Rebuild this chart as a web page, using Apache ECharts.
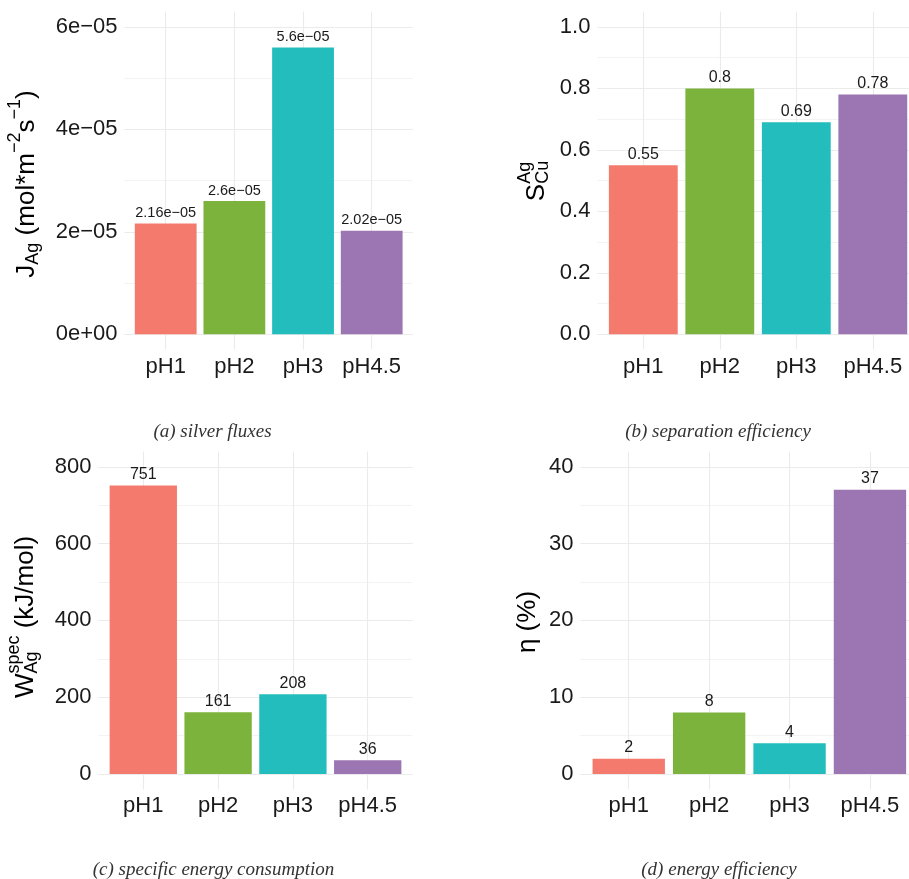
<!DOCTYPE html>
<html>
<head>
<meta charset="utf-8">
<script src="https://cdn.jsdelivr.net/npm/echarts@6.0.0/dist/echarts.min.js"></script>
<style>
html,body{margin:0;padding:0;background:#fff;}
#chart{width:909px;height:879px;}
</style>
</head>
<body>
<div id="chart"></div>
<script>
// ---- data ----
const categories = ['pH1', 'pH2', 'pH3', 'pH4.5'];
const barColors = ['#F47A6E', '#7CB33C', '#23BDBD', '#9B76B2'];

const fluxValues = [2.16e-5, 2.6e-5, 5.6e-5, 2.02e-5];
const selectivityValues = [0.55, 0.8, 0.69, 0.78];
const energyValues = [751, 161, 208, 36];
const efficiencyValues = [2, 8, 4, 37];

const fluxTicks = [0, 2e-5, 4e-5, 6e-5];
const fluxTickLabels = ['0e+00', '2e\u221205', '4e\u221205', '6e\u221205'];
const fluxMinorTicks = [1e-5, 3e-5, 5e-5];
const fluxLimits = [0, 6e-5];

const selTicks = [0, 0.2, 0.4, 0.6, 0.8, 1.0];
const selTickLabels = ['0.0', '0.2', '0.4', '0.6', '0.8', '1.0'];
const selMinorTicks = [0.1, 0.3, 0.5, 0.7, 0.9];
const selLimits = [0, 1];

const energyTicks = [0, 200, 400, 600, 800];
const energyTickLabels = ['0', '200', '400', '600', '800'];
const energyMinorTicks = [100, 300, 500, 700];
const energyLimits = [0, 800];

const effTicks = [0, 10, 20, 30, 40];
const effTickLabels = ['0', '10', '20', '30', '40'];
const effMinorTicks = [5, 15, 25, 35];
const effLimits = [0, 40];

const captions = ['(a) silver fluxes', '(b) separation efficiency',
                  '(c) specific energy consumption', '(d) energy efficiency'];

// ---- helpers ----
function fmtSci(v) {
  const s = Number(v.toPrecision(3)).toExponential();
  const m = s.match(/^([\d.]+)e([+-])(\d+)$/);
  const exp = m[3].length < 2 ? '0' + m[3] : m[3];
  return m[1] + 'e' + (m[2] === '-' ? '\u2212' : '+') + exp;
}

const panels = [
  {vals: fluxValues, ticks: fluxTicks, tickLabels: fluxTickLabels, minor: fluxMinorTicks, lim: fluxLimits,
   rect: {left: 124.5, top: 11.6, width: 288.4, height: 338}, labelSize: 14.5, fmt: fmtSci},
  {vals: selectivityValues, ticks: selTicks, tickLabels: selTickLabels, minor: selMinorTicks, lim: selLimits,
   rect: {left: 597.4, top: 11.6, width: 321.3, height: 338}, labelSize: 16, fmt: v => String(v)},
  {vals: energyValues, ticks: energyTicks, tickLabels: energyTickLabels, minor: energyMinorTicks, lim: energyLimits,
   rect: {left: 98.4, top: 451.4, width: 314.2, height: 338}, labelSize: 16, fmt: v => String(v)},
  {vals: efficiencyValues, ticks: effTicks, tickLabels: effTickLabels, minor: effMinorTicks, lim: effLimits,
   rect: {left: 580.5, top: 451.4, width: 337.7, height: 338}, labelSize: 16, fmt: v => String(v)}
];

const FONT = '"Liberation Sans", Arial, sans-serif';
const TXT = '#1a1a1a';
const GRID = '#EBEBEB';

const grids = [], xAxes = [], yAxes = [], series = [];
panels.forEach((p, i) => {
  const span = p.lim[1] - p.lim[0];
  const ymin = p.lim[0] - 0.05 * span, ymax = p.lim[1] + 0.05 * span;
  grids.push(Object.assign({containLabel: false, outerBoundsMode: 'none'}, p.rect));
  const catIdx = categories.map((c, k) => k + 1);
  xAxes.push({
    type: 'value', gridIndex: i, min: 0.4, max: categories.length + 0.6,
    axisLine: {show: false, onZero: false},
    axisTick: {show: false, customValues: catIdx},
    axisLabel: {customValues: catIdx, formatter: v => categories[Math.round(v) - 1],
                fontSize: 22, fontFamily: FONT, color: TXT, margin: 6},
    splitLine: {show: true, lineStyle: {color: GRID, width: 1.1}}
  });
  yAxes.push({
    type: 'value', gridIndex: i, min: ymin, max: ymax,
    axisLine: {show: false, onZero: false},
    axisTick: {show: false, customValues: p.ticks},
    axisLabel: {customValues: p.ticks,
                formatter: v => { const k = p.ticks.findIndex(t => Math.abs(t - v) < span * 1e-6); return k >= 0 ? p.tickLabels[k] : ''; },
                fontSize: 22, fontFamily: FONT, color: TXT, margin: 7},
    splitLine: {show: true, lineStyle: {color: GRID, width: 1.1}}
  });
  yAxes.push({
    type: 'value', gridIndex: i, min: ymin, max: ymax, position: 'right',
    axisLine: {show: false, onZero: false},
    axisTick: {show: false, customValues: p.minor},
    axisLabel: {show: false, customValues: p.minor},
    splitLine: {show: true, lineStyle: {color: GRID, width: 0.6}}
  });
  series.push({
    type: 'bar', xAxisIndex: i, yAxisIndex: 2 * i, barWidth: '90%',
    data: categories.map((c, k) => ({value: [k + 1, p.vals[k]], itemStyle: {color: barColors[k]}})),
    label: {show: true, position: 'top', distance: 3, fontSize: p.labelSize, fontFamily: FONT, color: TXT,
            formatter: prm => p.fmt(prm.value[1])},
    emphasis: {disabled: true}
  });
});

// ---- axis titles with sub/superscripts ----
const measureCtx = document.createElement('canvas').getContext('2d');
function tw(t, size) { measureCtx.font = size + 'px ' + FONT; return measureCtx.measureText(t).width; }

function buildTitle(pieces, cx, cy, F) {
  const f = Math.round(F * 0.7);
  const supOff = -0.46 * F, subOff = 0.24 * F;
  const items = [];
  let x = 0;
  pieces.forEach(pc => {
    if (pc.main !== undefined) {
      items.push({t: pc.main, x: x, y: 0, s: F}); x += tw(pc.main, F);
    } else if (pc.sub !== undefined && pc.sup !== undefined) {
      items.push({t: pc.sup, x: x, y: supOff, s: f});
      items.push({t: pc.sub, x: x, y: subOff, s: f});
      x += Math.max(tw(pc.sup, f), tw(pc.sub, f));
    } else if (pc.sub !== undefined) {
      items.push({t: pc.sub, x: x, y: subOff, s: f}); x += tw(pc.sub, f);
    } else if (pc.sup !== undefined) {
      items.push({t: pc.sup, x: x, y: supOff, s: f}); x += tw(pc.sup, f);
    }
  });
  const total = x;
  return {
    type: 'group', x: cx, y: cy, rotation: Math.PI / 2,
    children: items.map(it => ({
      type: 'text', x: it.x - total / 2, y: it.y,
      style: {text: it.t, fontSize: it.s, fontFamily: FONT, fill: '#000', align: 'left', verticalAlign: 'middle'}
    }))
  };
}

const F = 26;
const graphics = [
  buildTitle([{main: 'J'}, {sub: 'Ag'}, {main: ' (mol*m'}, {sup: '\u22122'}, {main: 's'}, {sup: '\u22121'}, {main: ')'}], 27, 184, F),
  buildTitle([{main: 'S'}, {sup: 'Ag', sub: 'Cu'}], 537, 181, F),
  buildTitle([{main: 'W'}, {sup: 'spec', sub: 'Ag'}, {main: ' (kJ/mol)'}], 26, 617, F),
  buildTitle([{main: '\u03B7 (%)'}], 528, 622, F)
];
const capPos = [[212.5, 431.5], [718, 431.5], [213.5, 870], [719, 870]];
captions.forEach((c, i) => {
  graphics.push({
    type: 'text', x: capPos[i][0], y: capPos[i][1],
    style: {text: c, fontSize: 19, fontFamily: '"Liberation Serif", "Times New Roman", serif', fontStyle: 'italic',
            fill: '#333', align: 'center', verticalAlign: 'middle'}
  });
});

const chart = echarts.init(document.getElementById('chart'), null, {renderer: 'canvas'});
chart.setOption({
  animation: false,
  backgroundColor: '#fff',
  grid: grids,
  xAxis: xAxes,
  yAxis: yAxes,
  series: series,
  graphic: graphics
});
</script>
</body>
</html>
